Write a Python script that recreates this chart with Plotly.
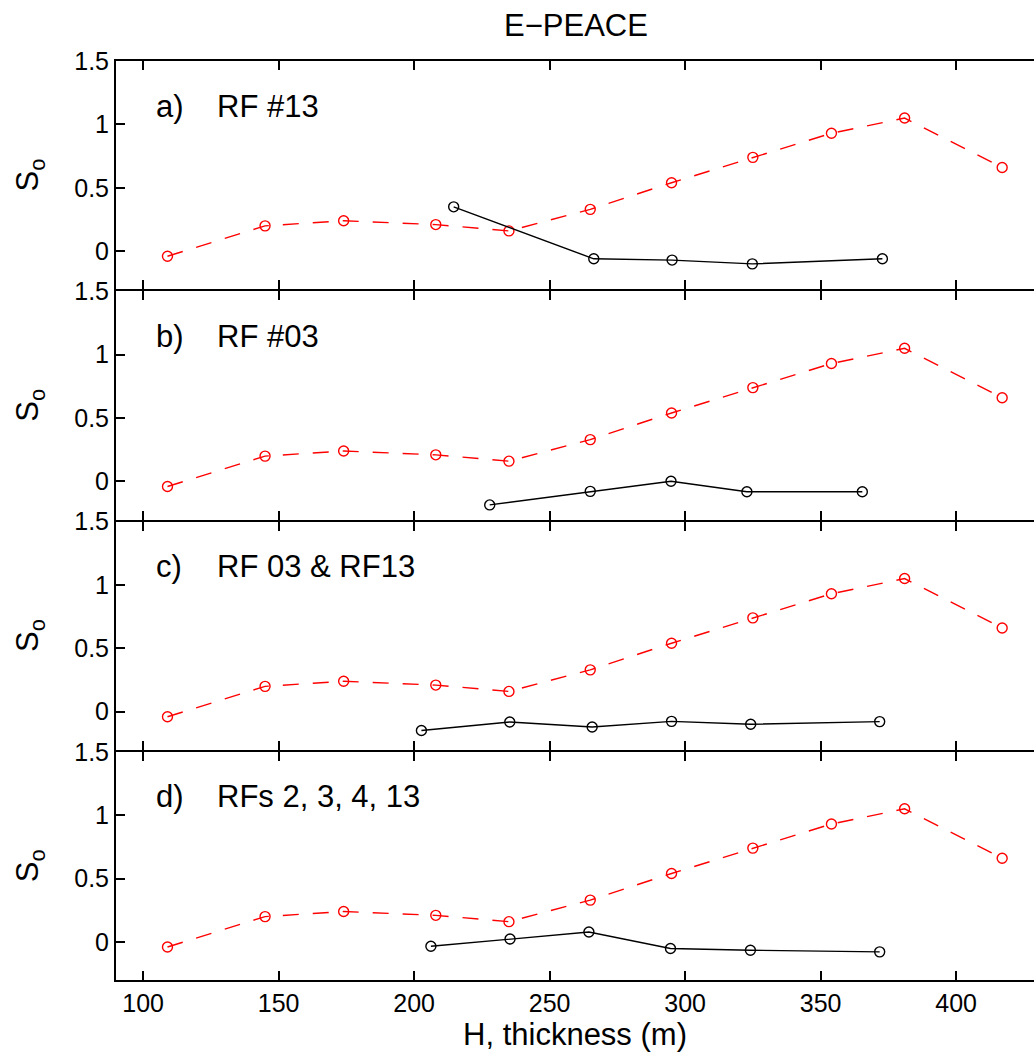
import plotly.graph_objects as go

# ---- data ----
red_x = [109, 145, 174, 208, 235, 265, 295, 325, 354, 381, 417]
red_y = [-0.04, 0.20, 0.24, 0.21, 0.16, 0.33, 0.54, 0.74, 0.93, 1.05, 0.66]

black_a_x = [214.6, 266.3, 295.2, 324.8, 372.8]
black_a_y = [0.35, -0.06, -0.07, -0.10, -0.06]

black_b_x = [227.9, 265.0, 294.8, 322.8, 365.4]
black_b_y = [-0.185, -0.078, 0.002, -0.081, -0.081]

black_c_x = [202.7, 235.3, 265.7, 295.0, 324.2, 371.8]
black_c_y = [-0.148, -0.081, -0.12, -0.076, -0.099, -0.078]

black_d_x = [206.2, 235.4, 264.5, 294.6, 324.1, 371.8]
black_d_y = [-0.034, 0.023, 0.078, -0.052, -0.065, -0.078]

panel_letters = ["a)", "b)", "c)", "d)"]
panel_names = ["RF #13", "RF #03", "RF 03 & RF13", "RFs 2, 3, 4, 13"]
x_ticks = [100, 150, 200, 250, 300, 350, 400]
y_ticks = [0, 0.5, 1, 1.5]
y_ticklabels = ["0", "0.5", "1", "1.5"]

black_sets = [(black_a_x, black_a_y), (black_b_x, black_b_y),
              (black_c_x, black_c_y), (black_d_x, black_d_y)]

FONT = "Liberation Sans, Arial, Helvetica, sans-serif"
W, H = 1034, 1055
ML, MR, MT, MB = 116, 0, 61, 75
PW, PH = W - ML - MR, H - MT - MB
GAP = 2
n = 4
ph = (PH - (n - 1) * GAP) / n
px_per_unit = 2.71
x_range = [90, 90 + PW / px_per_unit]
y_range = [-0.3, 1.5]

fig = go.Figure()
layout = dict(
    width=W, height=H,
    margin=dict(l=ML, r=MR, t=MT, b=MB),
    paper_bgcolor="white", plot_bgcolor="white",
    showlegend=False,
    font=dict(family=FONT, color="black", size=25),
)

annotations = []
for i in range(n):
    k = i + 1
    xs = "" if k == 1 else str(k)
    ov = str(k + n)
    top_px = i * (ph + GAP)
    top = 1 - top_px / PH
    bot = 1 - (top_px + ph) / PH
    fig.add_trace(go.Scatter(
        x=red_x, y=red_y, mode="lines+markers",
        line=dict(color="#ff0000", width=1.4, dash="16px,14px"),
        marker=dict(symbol="circle-open", size=10, color="#ff0000", line=dict(width=1.4)),
        xaxis="x" + xs, yaxis="y" + xs))
    bx, by = black_sets[i]
    fig.add_trace(go.Scatter(
        x=bx, y=by, mode="lines+markers",
        line=dict(color="black", width=1.4),
        marker=dict(symbol="circle-open", size=10, color="black", line=dict(width=1.4)),
        xaxis="x" + xs, yaxis="y" + xs))

    xa = dict(
        domain=[0, 1], anchor="y" + xs, range=x_range,
        tickvals=x_ticks, ticktext=[str(v) for v in x_ticks],
        showticklabels=(k == n),
        ticks="inside", ticklen=9, tickwidth=1.5, tickcolor="black",
        showline=True, linecolor="black", linewidth=2, mirror="ticks",
        showgrid=False, zeroline=False,
        tickfont=dict(size=25),
    )
    if k == n:
        xa["title"] = dict(text="H, thickness (m)", font=dict(size=31), standoff=6)
    layout["xaxis" + xs] = xa
    layout["yaxis" + xs] = dict(
        domain=[bot, top], anchor="x" + xs, range=y_range,
        tickvals=y_ticks, ticktext=y_ticklabels,
        ticks="inside", ticklen=9, tickwidth=1.5, tickcolor="black",
        showline=True, linecolor="black", linewidth=2, mirror=False,
        showgrid=False, zeroline=False,
        tickfont=dict(size=25),
        title=dict(text="S<sub>o</sub>", font=dict(size=31), standoff=26),
    )
    layout["yaxis" + ov] = dict(
        overlaying="y" + xs, anchor="x" + xs, side="right", range=y_range,
        tickvals=y_ticks, showticklabels=False,
        ticks="inside", ticklen=9, tickwidth=1.5, tickcolor="black",
        showline=False, showgrid=False, zeroline=False,
    )
    ylab = 1 - 45 / ph
    annotations.append(dict(
        text=panel_letters[i], xref="x" + xs + " domain", yref="y" + xs + " domain",
        x=(154 - ML) / PW, y=ylab, xanchor="left", yanchor="middle",
        showarrow=False, font=dict(size=31)))
    annotations.append(dict(
        text=panel_names[i], xref="x" + xs + " domain", yref="y" + xs + " domain",
        x=(215 - ML) / PW, y=ylab, xanchor="left", yanchor="middle",
        showarrow=False, font=dict(size=31)))

annotations.append(dict(
    text="E\u2212PEACE", xref="paper", yref="paper",
    x=(576 - ML) / PW, y=1 + (MT - 26) / PH, xanchor="center", yanchor="middle",
    showarrow=False, font=dict(size=31)))
layout["annotations"] = annotations
fig.update_layout(**layout)

fig.write_html("out.html")
